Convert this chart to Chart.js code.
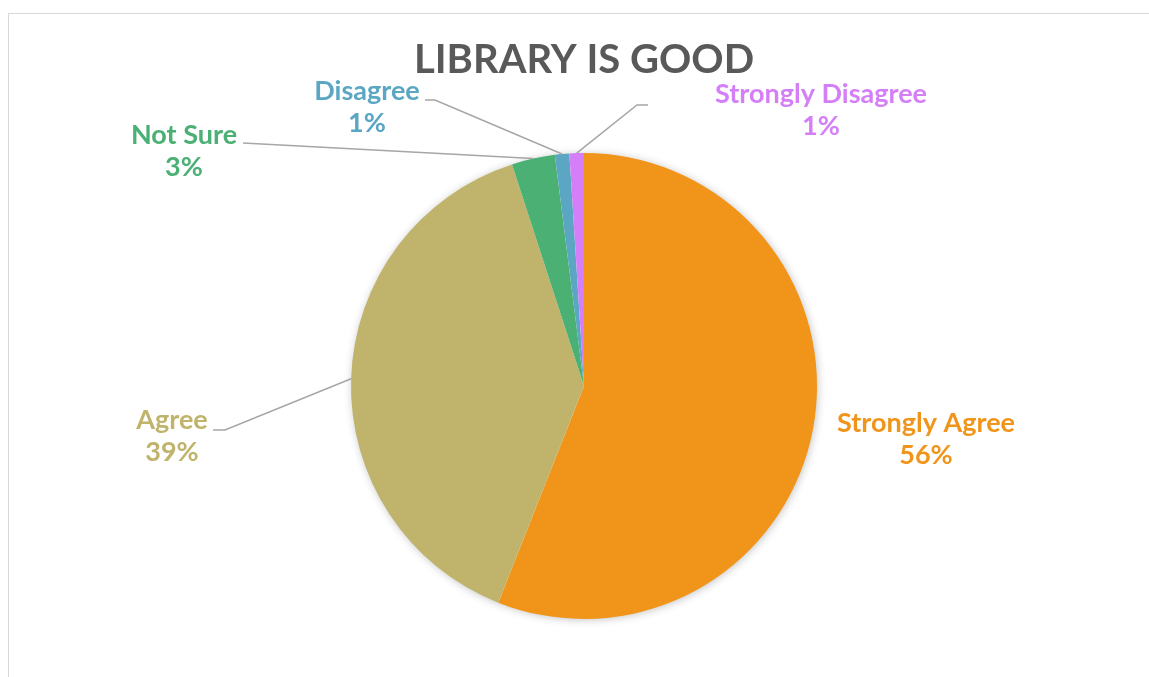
<!DOCTYPE html>
<html>
<head>
<meta charset="utf-8">
<script src="https://cdn.jsdelivr.net/npm/chart.js@4/dist/chart.umd.min.js"></script>
<style>
  html, body { margin: 0; padding: 0; background: #fff; }
  #wrap { position: relative; width: 1149px; height: 677px; overflow: hidden; }
  /* the chart frame runs off the right and bottom edges */
  #frame { position: absolute; left: 8px; top: 13px; width: 1160px; height: 700px; border: 1px solid #d9d9d9; box-sizing: border-box; }
  canvas { position: absolute; left: 0; top: 0; }
</style>
</head>
<body>
<div id="wrap">
  <div id="frame"></div>
  <canvas id="pie" width="1149" height="677"></canvas>
</div>
<script>
const title = 'LIBRARY IS GOOD';
const categories = ['Strongly Agree', 'Agree', 'Not Sure', 'Disagree', 'Strongly Disagree'];
const percents = [56, 39, 3, 1, 1];
const colors = ['#F0951A', '#C0B46C', '#4BB073', '#5BA7C3', '#D47EF7'];

// where each label sits and how its leader line bends (null = no line)
const labelSpots = [
    { x: 926, y: 432, line: null },
    { x: 172, y: 429, line: [[213, 430], [225, 430]] },
    { x: 184, y: 144, line: [[243, 143]] },
    { x: 367, y: 100, line: [[425, 100], [435, 100]] },
    { x: 821, y: 103, line: [[648, 105], [637, 105]] }
];

const FONT = 'Lato, "Open Sans", sans-serif';

const labelPlugin = {
    id: 'labelPlugin',
    beforeDatasetsDraw(chart) {
        // soft shadow under the whole pie
        const arc = chart.getDatasetMeta(0).data[0];
        const ctx = chart.ctx;
        ctx.save();
        ctx.shadowColor = 'rgba(0,0,0,0.28)';
        ctx.shadowBlur = 10;
        ctx.shadowOffsetX = 1;
        ctx.shadowOffsetY = 1;
        ctx.fillStyle = '#ffffff';
        ctx.beginPath();
        ctx.arc(arc.x, arc.y, arc.outerRadius - 1, 0, Math.PI * 2);
        ctx.fill();
        ctx.restore();
    },
    afterDatasetsDraw(chart) {
        const ctx = chart.ctx;
        const meta = chart.getDatasetMeta(0);
        ctx.save();

        // title
        ctx.fillStyle = '#595959';
        ctx.font = 'bold 40px ' + FONT;
        ctx.textAlign = 'center';
        ctx.textBaseline = 'alphabetic';
        ctx.fillText(title, 584, 73);

        meta.data.forEach((arc, i) => {
            const spot = labelSpots[i];
            if (spot.line) {
                const mid = (arc.startAngle + arc.endAngle) / 2;
                const ex = arc.x + Math.cos(mid) * arc.outerRadius;
                const ey = arc.y + Math.sin(mid) * arc.outerRadius;
                ctx.strokeStyle = '#a6a6a6';
                ctx.lineWidth = 1.5;
                ctx.beginPath();
                ctx.moveTo(spot.line[0][0], spot.line[0][1]);
                for (let k = 1; k < spot.line.length; k++) ctx.lineTo(spot.line[k][0], spot.line[k][1]);
                ctx.lineTo(ex, ey);
                ctx.stroke();
            }
            ctx.fillStyle = colors[i];
            ctx.font = 'bold 27px ' + FONT;
            ctx.fillText(categories[i], spot.x, spot.y);
            ctx.fillText(percents[i] + '%', spot.x, spot.y + 32);
        });
        ctx.restore();
    }
};

new Chart(document.getElementById('pie'), {
    type: 'pie',
    data: {
        labels: categories,
        datasets: [{
            data: percents,
            backgroundColor: colors,
            borderWidth: 0
        }]
    },
    options: {
        responsive: false,
        animation: false,
        layout: { padding: { top: 153, bottom: 58, left: 351, right: 332 } },
        plugins: {
            legend: { display: false },
            tooltip: { enabled: false },
            title: { display: false }
        }
    },
    plugins: [labelPlugin]
});
</script>
</body>
</html>
